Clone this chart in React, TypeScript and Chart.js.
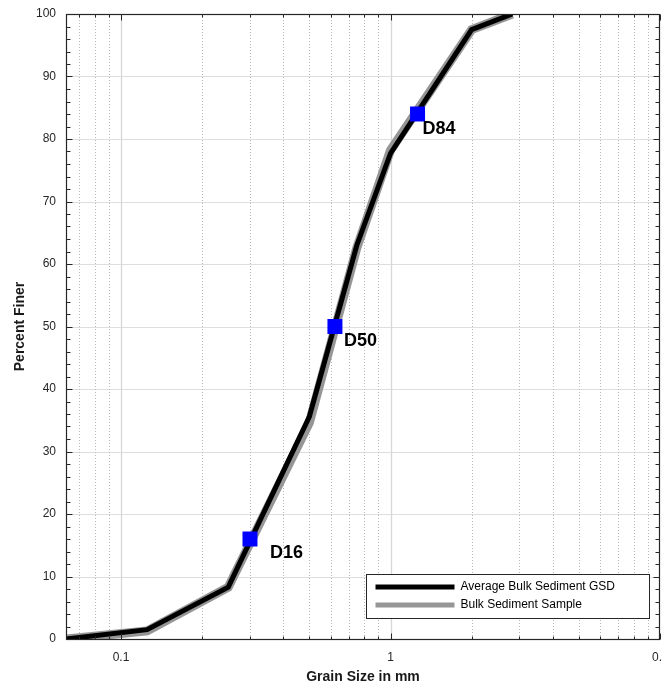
import { useEffect, useRef } from "react";
import { Chart, registerables } from "chart.js";

Chart.register(...registerables);

// ---- data ----
const grainSizes = [0.0625, 0.125, 0.25, 0.5, 0.75, 1, 2, 2.83];
const averagePercentFiner = [0, 1.5, 8.3, 35.6, 63, 77.7, 97.5, 100];
const samplePercentFiner = [0, 1.3, 8.3, 34.6, 62.6, 78.2, 97.5, 100];

const dLabels = ["D16", "D50", "D84"];
const dSizes = [0.301, 0.622, 1.26];
const dPercents = [16, 50, 84];

const seriesLabels = ["Average Bulk Sediment GSD", "Bulk Sediment Sample"];

const xMajorTicks = [0.1, 1, 10];
const xTickLabels = ["0.1", "1", "0."];
const xMinorTicks = [0.07, 0.08, 0.09, 0.2, 0.3, 0.4, 0.5, 0.6, 0.7, 0.8, 0.9, 2, 3, 4, 5, 6, 7, 8, 9];
const yTicks = [0, 10, 20, 30, 40, 50, 60, 70, 80, 90, 100];
const yMinorTicks = [2, 4, 6, 8, 12, 14, 16, 18, 22, 24, 26, 28, 32, 34, 36, 38, 42, 44, 46, 48, 52, 54, 56, 58, 62, 64, 66, 68, 72, 74, 76, 78, 82, 84, 86, 88, 92, 94, 96, 98];

// ---- styles ----
const FONT = '"Liberation Sans", Arial, Helvetica, sans-serif';
const AXIS = "rgb(38,38,38)";
const BLACK_LINE = "#000000";
const GRAY_LINE = "rgb(150,150,150)";
const MARKER = "#0000ff";
const labelDx = [20, 9, 5];
const labelDy = [19, 19, 20];

const decorPlugin = {
  id: "decor",
  beforeDatasetsDraw(chart: any) {
    const { ctx, chartArea: a, scales } = chart;
    const x = scales.x;
    const y = scales.y;
    ctx.save();
    ctx.lineWidth = 1;
    // horizontal grid
    ctx.strokeStyle = "rgb(222,222,222)";
    for (const v of yTicks) {
      if (v === 0 || v === 100) continue;
      const py = Math.round(y.getPixelForValue(v)) + 0.5;
      ctx.beginPath();
      ctx.moveTo(a.left, py);
      ctx.lineTo(a.right, py);
      ctx.stroke();
    }
    // minor vertical dotted grid
    ctx.strokeStyle = "rgb(185,185,185)";
    ctx.setLineDash([1, 2]);
    for (const v of xMinorTicks) {
      const px = Math.round(x.getPixelForValue(v)) + 0.5;
      ctx.beginPath();
      ctx.moveTo(px, a.top);
      ctx.lineTo(px, a.bottom);
      ctx.stroke();
    }
    ctx.setLineDash([]);
    ctx.strokeStyle = "rgb(215,215,215)";
    ctx.lineWidth = 1.3;
    for (const v of xMajorTicks) {
      const px = Math.round(x.getPixelForValue(v)) + 0.5;
      if (px >= a.right - 1) continue;
      ctx.beginPath();
      ctx.moveTo(px, a.top);
      ctx.lineTo(px, a.bottom);
      ctx.stroke();
    }
    ctx.restore();
  },
  afterDatasetsDraw(chart: any) {
    const { ctx, chartArea: a, scales, width } = chart;
    const x = scales.x;
    const y = scales.y;
    ctx.save();
    // box
    ctx.strokeStyle = AXIS;
    ctx.lineWidth = 1.2;
    const L = Math.round(a.left) + 0.5;
    const R = Math.round(a.right) - 0.5;
    const T = Math.round(a.top) + 0.5;
    const B = Math.round(a.bottom) + 0.5;
    ctx.strokeRect(L, T, R - L, B - T);
    // ticks
    ctx.lineWidth = 1;
    const tick = (x1: number, y1: number, x2: number, y2: number) => {
      ctx.beginPath();
      ctx.moveTo(x1, y1);
      ctx.lineTo(x2, y2);
      ctx.stroke();
    };
    for (const v of yTicks) {
      const py = Math.round(y.getPixelForValue(v)) + 0.5;
      tick(L, py, L + 6, py);
      tick(R, py, R - 6, py);
    }
    for (const v of yMinorTicks) {
      const py = Math.round(y.getPixelForValue(v)) + 0.5;
      tick(L, py, L + 4, py);
      tick(R, py, R - 4, py);
    }
    for (const v of xMajorTicks) {
      const px = Math.round(x.getPixelForValue(v)) + 0.5;
      tick(px, T, px, T + 6);
      tick(px, B, px, B - 6);
    }
    for (const v of xMinorTicks) {
      const px = Math.round(x.getPixelForValue(v)) + 0.5;
      tick(px, T, px, T + 3);
      tick(px, B, px, B - 3);
    }
    // tick labels
    ctx.fillStyle = AXIS;
    ctx.font = `12px ${FONT}`;
    ctx.textAlign = "right";
    ctx.textBaseline = "middle";
    for (const v of yTicks) {
      ctx.fillText(String(v), a.left - 10, y.getPixelForValue(v));
    }
    ctx.textAlign = "center";
    ctx.textBaseline = "alphabetic";
    xMajorTicks.forEach((v, i) => {
      const t = xTickLabels[i];
      const w = ctx.measureText(t).width;
      let px = x.getPixelForValue(v);
      px = Math.min(px, width - w / 2 - 1);
      ctx.fillText(t, px, a.bottom + 22);
    });
    // axis titles
    ctx.fillStyle = "rgb(25,25,25)";
    ctx.font = `bold 14px ${FONT}`;
    ctx.fillText("Grain Size in mm", (a.left + a.right) / 2, a.bottom + 42);
    ctx.save();
    ctx.translate(24, (a.top + a.bottom) / 2);
    ctx.rotate(-Math.PI / 2);
    ctx.fillText("Percent Finer", 0, 0);
    ctx.restore();
    // D labels
    ctx.fillStyle = "#000";
    ctx.font = `bold 18px ${FONT}`;
    ctx.textAlign = "left";
    dLabels.forEach((t, i) => {
      const px = x.getPixelForValue(dSizes[i]);
      const py = y.getPixelForValue(dPercents[i]);
      ctx.fillText(t, px + labelDx[i], py + labelDy[i]);
    });
    // legend
    const bx = 366.5, by = 574.5, bw = 283, bh = 44;
    ctx.fillStyle = "#fff";
    ctx.fillRect(bx, by, bw, bh);
    ctx.strokeStyle = AXIS;
    ctx.lineWidth = 1;
    ctx.strokeRect(bx, by, bw, bh);
    const ds = chart.data.datasets;
    const rows = [ds[1], ds[2]];
    ctx.font = `12px ${FONT}`;
    ctx.textBaseline = "middle";
    rows.forEach((d: any, i: number) => {
      const ly = by + 12.5 + i * 18;
      ctx.strokeStyle = d.borderColor;
      ctx.lineWidth = 5;
      ctx.beginPath();
      ctx.moveTo(bx + 9, ly);
      ctx.lineTo(bx + 88, ly);
      ctx.stroke();
      ctx.fillStyle = "#000";
      ctx.fillText(d.label, bx + 94, ly);
    });
    ctx.restore();
  },
};

export default function App() {
  const ref = useRef<HTMLCanvasElement | null>(null);
  useEffect(() => {
    if (!ref.current) return;
    const toPts = (ys: number[]) => grainSizes.map((g, i) => ({ x: g, y: ys[i] }));
    const chart = new Chart(ref.current, {
      type: "scatter",
      data: {
        datasets: [
          {
            label: "Markers",
            data: dSizes.map((s, i) => ({ x: s, y: dPercents[i] })),
            pointStyle: "rect",
            pointRadius: 10.6,
            pointBackgroundColor: MARKER,
            pointBorderWidth: 0,
            showLine: false,
            order: 0,
          } as any,
          {
            label: seriesLabels[0],
            data: toPts(averagePercentFiner),
            borderColor: BLACK_LINE,
            borderWidth: 5,
            pointRadius: 0,
            showLine: true,
            tension: 0,
            clip: 0,
            order: 1,
          },
          {
            label: seriesLabels[1],
            data: toPts(samplePercentFiner),
            borderColor: GRAY_LINE,
            borderWidth: 9,
            pointRadius: 0,
            showLine: true,
            tension: 0,
            clip: 0,
            order: 2,
          },
        ],
      },
      options: {
        animation: false,
        responsive: false,
        layout: { autoPadding: false, padding: { left: 66, right: 3, top: 14, bottom: 48 } },
        scales: {
          x: { type: "logarithmic", min: 0.0625, max: 10, display: false },
          y: { type: "linear", min: 0, max: 100, display: false },
        },
        plugins: { legend: { display: false }, tooltip: { enabled: false } },
        events: [],
      },
      plugins: [decorPlugin],
    });
    return () => chart.destroy();
  }, []);
  return (
    <div style={{ position: "absolute", left: 0, top: 0, width: 663, height: 687, background: "#fff" }}>
      <canvas ref={ref} width={663} height={687} />
    </div>
  );
}
